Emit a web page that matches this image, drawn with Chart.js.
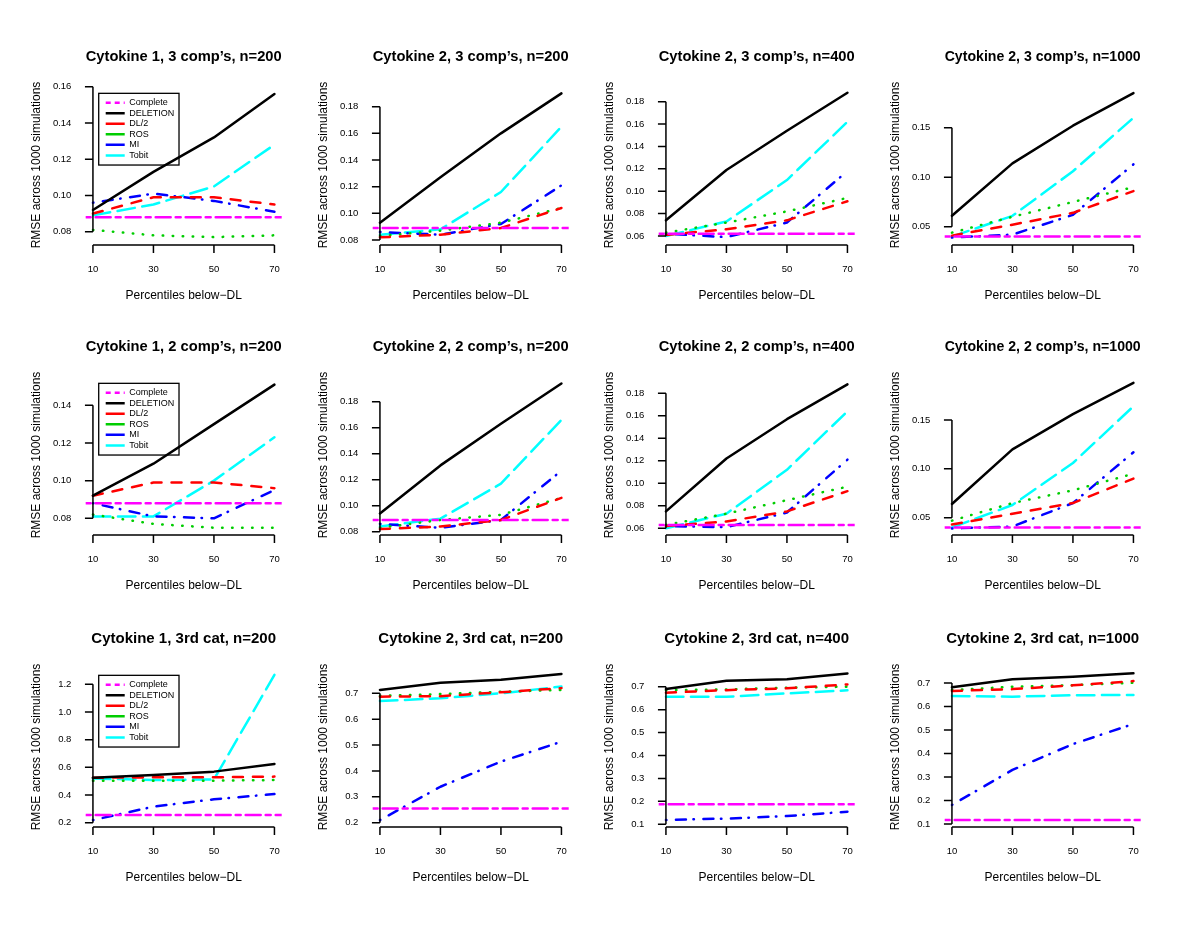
<!DOCTYPE html>
<html><head><meta charset="utf-8">
<script src="https://cdn.jsdelivr.net/npm/chart.js@4.4.1/dist/chart.umd.min.js"></script>
<style>
html,body{margin:0;padding:0;background:#fff;width:1200px;height:927px;overflow:hidden;}
.panel{position:absolute;width:287px;height:291px;}
canvas{display:block;}
</style></head><body>
<script>
// ---------------- data ----------------
const percentiles = [10, 30, 50, 70];
const xTickLabels = ['10', '30', '50', '70'];
const methods = ['Complete', 'DELETION', 'DL/2', 'ROS', 'MI', 'Tobit'];
const panelTitles = [
  'Cytokine 1, 3 comp\u2019s, n=200', 'Cytokine 2, 3 comp\u2019s, n=200', 'Cytokine 2, 3 comp\u2019s, n=400', 'Cytokine 2, 3 comp\u2019s, n=1000',
  'Cytokine 1, 2 comp\u2019s, n=200', 'Cytokine 2, 2 comp\u2019s, n=200', 'Cytokine 2, 2 comp\u2019s, n=400', 'Cytokine 2, 2 comp\u2019s, n=1000',
  'Cytokine 1, 3rd cat, n=200', 'Cytokine 2, 3rd cat, n=200', 'Cytokine 2, 3rd cat, n=400', 'Cytokine 2, 3rd cat, n=1000'
];
const yTickLabels = [
  ['0.08','0.10','0.12','0.14','0.16'],
  ['0.08','0.10','0.12','0.14','0.16','0.18'],
  ['0.06','0.08','0.10','0.12','0.14','0.16','0.18'],
  ['0.05','0.10','0.15'],
  ['0.08','0.10','0.12','0.14'],
  ['0.08','0.10','0.12','0.14','0.16','0.18'],
  ['0.06','0.08','0.10','0.12','0.14','0.16','0.18'],
  ['0.05','0.10','0.15'],
  ['0.2','0.4','0.6','0.8','1.0','1.2'],
  ['0.2','0.3','0.4','0.5','0.6','0.7'],
  ['0.1','0.2','0.3','0.4','0.5','0.6','0.7'],
  ['0.1','0.2','0.3','0.4','0.5','0.6','0.7']
];
const yLimits = [
  [0.073214, 0.160386], [0.0770, 0.195529], [0.052852, 0.194028], [0.032525, 0.192121],
  [0.071664, 0.155557], [0.078231, 0.199769], [0.054933, 0.195378], [0.033317, 0.195034],
  [0.176156, 1.317774], [0.187249, 0.797759], [0.092587, 0.781541], [0.091489, 0.763830]
];
const xLimits = [7.6, 72.4];

const completeRMSE = [0.088, 0.089, 0.062, 0.040, 0.088, 0.089, 0.063, 0.040, 0.255, 0.255, 0.187, 0.117];
const deletionRMSE = [
  [0.092,0.113,0.132,0.156], [0.093,0.127,0.160,0.190], [0.074,0.119,0.154,0.188], [0.061,0.114,0.152,0.185],
  [0.092,0.109,0.130,0.151], [0.094,0.131,0.163,0.194], [0.075,0.122,0.157,0.188], [0.064,0.120,0.156,0.188],
  [0.525,0.545,0.569,0.624], [0.713,0.741,0.752,0.775], [0.690,0.726,0.733,0.758], [0.682,0.716,0.727,0.741]
];
const dl2RMSE = [
  [0.090,0.099,0.099,0.095], [0.082,0.084,0.089,0.104], [0.061,0.066,0.074,0.091], [0.041,0.052,0.064,0.086],
  [0.092,0.099,0.099,0.096], [0.082,0.084,0.089,0.106], [0.062,0.066,0.075,0.093], [0.043,0.054,0.065,0.090],
  [0.525,0.528,0.528,0.533], [0.687,0.689,0.704,0.720], [0.674,0.685,0.693,0.710], [0.666,0.674,0.690,0.708]
];
const rosRMSE = [
  [0.081,0.078,0.077,0.078], [0.083,0.087,0.093,0.104], [0.063,0.072,0.082,0.094], [0.044,0.060,0.075,0.090],
  [0.082,0.077,0.075,0.075], [0.083,0.089,0.093,0.106], [0.063,0.073,0.085,0.097], [0.047,0.065,0.078,0.095],
  [0.504,0.504,0.504,0.508], [0.690,0.697,0.706,0.713], [0.685,0.688,0.696,0.700], [0.670,0.684,0.691,0.701]
];
const miRMSE = [
  [0.096,0.101,0.097,0.091], [0.086,0.084,0.092,0.121], [0.062,0.059,0.072,0.118], [0.039,0.042,0.062,0.113],
  [0.088,0.081,0.080,0.095], [0.086,0.083,0.089,0.127], [0.062,0.061,0.074,0.121], [0.039,0.041,0.065,0.117],
  [0.219,0.316,0.369,0.407], [0.210,0.339,0.436,0.513], [0.119,0.125,0.136,0.155], [0.181,0.330,0.440,0.526]
];
const tobitRMSE = [
  [0.089,0.095,0.105,0.128], [0.084,0.088,0.116,0.165], [0.060,0.073,0.110,0.162], [0.040,0.061,0.106,0.160],
  [0.081,0.081,0.100,0.123], [0.084,0.090,0.117,0.166], [0.060,0.073,0.112,0.164], [0.040,0.063,0.106,0.164],
  [0.520,0.508,0.513,1.268], [0.670,0.681,0.700,0.726], [0.656,0.656,0.671,0.684], [0.645,0.642,0.648,0.649]
];
const legendPanels = [0, 4, 8];

// ---------------- styles ----------------
const LW = 2.5;
const seriesStyle = {
  'Complete': {color: '#FF00FF', dash: [5, 5, 15, 5], legendDash: [5, 4]},
  'DELETION': {color: '#000000', dash: []},
  'DL/2':     {color: '#FF0000', dash: [10, 10]},
  'ROS':      {color: '#00CD00', dash: [0.5, 9.5]},
  'MI':       {color: '#0000FF', dash: [0.5, 9.5, 10, 7.5]},
  'Tobit':    {color: '#00FFFF', dash: [17.5, 7.5]}
};
const FONT = '"Liberation Sans", Arial, Helvetica, sans-serif';
const colLeft = [13, 300, 586, 872];
const rowTop = [30, 320, 612];

// ---------------- plugins ----------------
const rAxes = {
  id: 'rAxes',
  afterDraw(chart) {
    const ctx = chart.ctx, xs = chart.scales.x, ys = chart.scales.y;
    const yt = ys.ticks.map(t => t.value);
    const xt = xs.ticks.map(t => t.value);
    const x0 = xs.getPixelForValue(xt[0]);
    ctx.save();
    ctx.strokeStyle = '#000'; ctx.lineWidth = 1.5; ctx.lineCap = 'butt'; ctx.setLineDash([]);
    ctx.beginPath();
    ctx.moveTo(x0, ys.getPixelForValue(yt[yt.length - 1]));
    ctx.lineTo(x0, ys.getPixelForValue(yt[0]));
    yt.forEach(v => { const p = ys.getPixelForValue(v); ctx.moveTo(x0, p); ctx.lineTo(x0 - 8, p); });
    const yAx = chart.chartArea.bottom + 1;
    ctx.moveTo(x0, yAx); ctx.lineTo(xs.getPixelForValue(xt[xt.length - 1]), yAx);
    xt.forEach(v => { const p = xs.getPixelForValue(v); ctx.moveTo(p, yAx); ctx.lineTo(p, yAx + 8); });
    ctx.stroke();
    const L = chart.legend;
    if (L && L.options.display) {
      const pad = L.options.labels.padding;
      ctx.lineWidth = 1.3;
      ctx.strokeRect(L.left + pad - 7, L.top + pad - 4.9, 80.3, 71.7);
    }
    ctx.restore();
  }
};
const legendShift = {
  id: 'legendShift',
  afterLayout(chart) {
    const L = chart.legend, ca = chart.chartArea;
    if (L && L.options.display) {
      L.left = ca.left + 18.5; L.top = ca.top + 10.7;
      L.right = L.left + L.width; L.bottom = L.top + L.height;
    }
  }
};

// ---------------- build ----------------
const seriesData = [null, deletionRMSE, dl2RMSE, rosRMSE, miRMSE, tobitRMSE];

for (let i = 0; i < 12; i++) {
  const div = document.createElement('div');
  div.className = 'panel';
  div.style.left = colLeft[i % 4] + 'px';
  div.style.top = rowTop[Math.floor(i / 4)] + 'px';
  const cv = document.createElement('canvas');
  cv.width = 287; cv.height = 291;
  cv.style.width = '287px'; cv.style.height = '291px';
  div.appendChild(cv);
  document.body.appendChild(div);

  const datasets = methods.map((m, k) => {
    const st = seriesStyle[m];
    const data = k === 0
      ? xLimits.map(x => ({x, y: completeRMSE[i]}))
      : percentiles.map((x, j) => ({x, y: seriesData[k][i][j]}));
    return {
      label: m, data,
      borderColor: st.color, backgroundColor: st.color,
      borderWidth: LW, borderDash: st.dash, borderCapStyle: 'round', borderJoinStyle: 'round',
      pointRadius: 0, pointHoverRadius: 0, tension: 0, fill: false
    };
  });
  const yVals = yTickLabels[i].map(parseFloat);
  const showLegend = legendPanels.includes(i);

  new Chart(cv, {
    type: 'line',
    data: {datasets},
    plugins: [legendShift, rAxes],
    options: {
      responsive: false, animation: false, devicePixelRatio: 1, events: [],
      layout: {padding: {left: 0, right: 16.7, top: 0, bottom: 0}},
      scales: {
        x: {
          type: 'linear', min: xLimits[0], max: xLimits[1],
          afterBuildTicks: s => { s.ticks = percentiles.map(v => ({value: v})); },
          afterFit: s => { s.height = 77; },
          grid: {display: false, drawTicks: false},
          border: {display: false},
          ticks: {
            color: '#000', font: {family: FONT, size: 9.5}, padding: 19.6,
            maxRotation: 0, autoSkip: false,
            callback: (v) => xTickLabels[percentiles.indexOf(v)]
          },
          title: {
            display: true, text: 'Percentiles below\u2212DL', color: '#000',
            font: {family: FONT, size: 12}, padding: {top: 0, bottom: 17.8}
          }
        },
        y: {
          type: 'linear', min: yLimits[i][0], max: yLimits[i][1],
          afterBuildTicks: s => { s.ticks = yVals.map(v => ({value: v})); },
          afterFit: s => { s.width = 72.68; },
          grid: {display: false, drawTicks: false},
          border: {display: false},
          ticks: {
            color: '#000', font: {family: FONT, size: 9.5}, padding: 14.3, autoSkip: false,
            callback: (v) => { const j = yVals.findIndex(t => Math.abs(t - v) < 1e-9); return j >= 0 ? yTickLabels[i][j] : ''; }
          },
          title: {
            display: true, text: 'RMSE across 1000 simulations', color: '#000',
            font: {family: FONT, size: 12}, padding: {top: 16.2, bottom: 0}
          }
        }
      },
      plugins: {
        title: {
          display: true, text: panelTitles[i], color: '#000', fullSize: false,
          font: {family: FONT, size: 15, weight: 'bold'}, padding: {top: 17.7, bottom: 20.3}
        },
        legend: {
          display: showLegend, position: 'chartArea', align: 'start',
          labels: {
            color: '#000', font: {family: FONT, size: 9}, padding: 1.53,
            usePointStyle: true, pointStyle: 'line', pointStyleWidth: 19,
            generateLabels: (chart) => {
              const items = Chart.defaults.plugins.legend.labels.generateLabels(chart);
              items.forEach(it => {
                const st = seriesStyle[it.text];
                if (st && st.legendDash) it.lineDash = st.legendDash;
                it.pointStyle = 'line';
              });
              return items;
            }
          }
        },
        tooltip: {enabled: false}
      }
    }
  });
}
</script>
</body></html>
